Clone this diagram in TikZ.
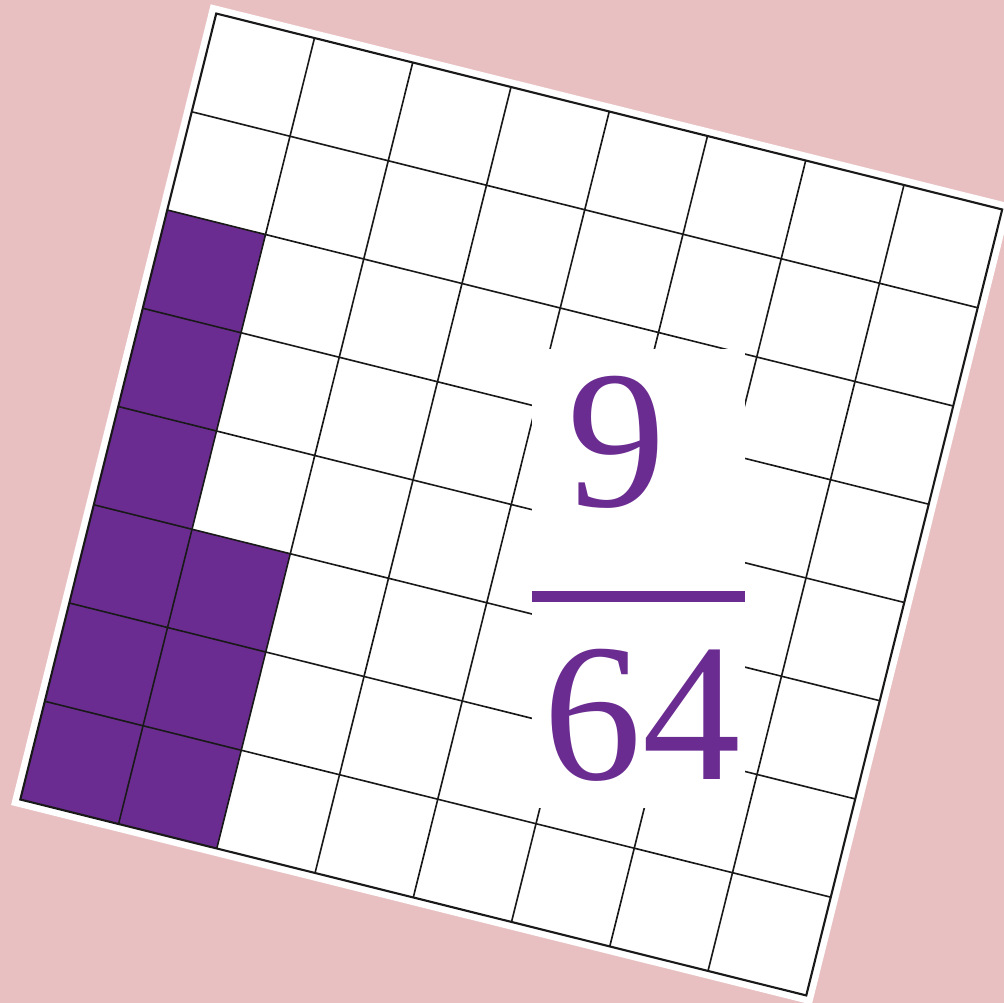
\documentclass[tikz,border=0pt]{standalone}
\usepackage{fontspec}
\setmainfont{Liberation Serif}
\usetikzlibrary{positioning}
\definecolor{cellpurple}{RGB}{107,44,145}
\definecolor{bgpink}{RGB}{233,192,194}

\begin{document}
\begin{tikzpicture}[x=0.025cm,y=0.025cm,
      gridline/.style={black!90,line width=1.15pt},
      shaded/.style={fill=cellpurple},
      digits/.style={text=cellpurple,inner sep=0pt,
                     font=\fontsize{140}{140}\selectfont}]
    \useasboundingbox (0,0) rectangle (1004,1003);
    \clip (0,0) rectangle (1004,1003);
    \fill[bgpink] (0,0) rectangle (1004,1003);

    % rotated 8x8 grid
    \begin{scope}[shift={(511.25,498.5)},rotate=-14,scale=101.25,shift={(-4,-4)}]
      \fill[white] (-0.075,-0.075) rectangle (8.075,8.075);
      \fill[shaded] (0,0) rectangle (1,6);
      \fill[shaded] (1,0) rectangle (2,3);
      \foreach \i in {1,...,7} {
        \draw[gridline] (\i,0) -- (\i,8);
        \draw[gridline] (0,\i) -- (8,\i);
      }
      \draw[gridline,line width=1.5pt] (0,0) rectangle (8,8);
    \end{scope}

    % fraction
    \fill[white] (532,195) rectangle (745,654);
    \node[digits] (num) at (617,561) {9};
    \fill[cellpurple] (532,400.5) rectangle (745,411.5);
    \node[digits] (den) at (642,288) {64};
  \end{tikzpicture}
\end{document}
